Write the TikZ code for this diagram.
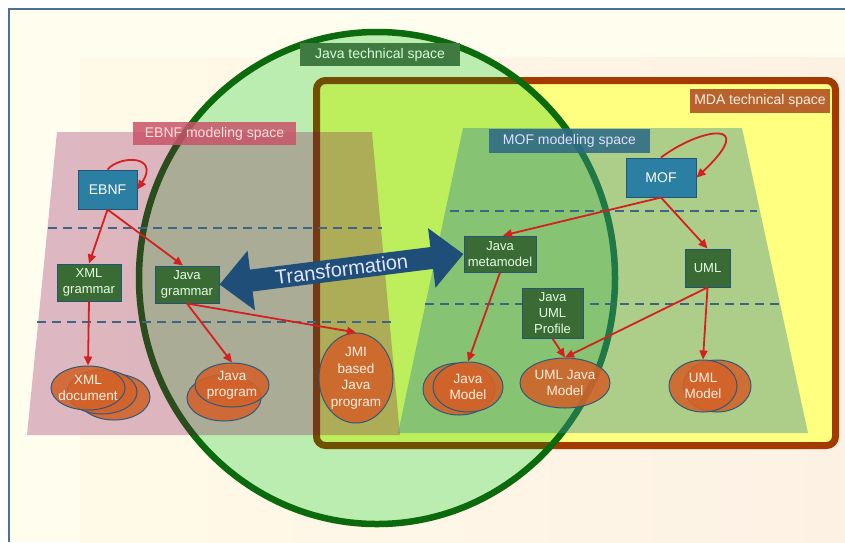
\documentclass[tikz,border=0pt]{standalone}
\usepackage{fontspec}
\setmainfont{Liberation Sans}
\usetikzlibrary{arrows.meta,shapes.geometric}
\definecolor{framebl}{HTML}{4F6F94}
\definecolor{cream}{HTML}{FFFDEE}
\definecolor{creamb}{HTML}{FFFAE8}
\definecolor{peach}{HTML}{FDF1E4}
\definecolor{ellfill}{HTML}{BBEDB0}
\definecolor{ellline}{HTML}{0B6A0B}
\definecolor{mdayel}{HTML}{FFFF80}
\definecolor{lime}{HTML}{BDEE5C}
\definecolor{mdabrd}{HTML}{A33A00}
\definecolor{mdaolive}{HTML}{705000}
\definecolor{pinktr}{RGB}{130,0,80}
\definecolor{moftr}{RGB}{60,140,150}
\definecolor{labjava}{HTML}{3F7A40}
\definecolor{labmda}{HTML}{B8622E}
\definecolor{labebnf}{HTML}{C8546A}
\definecolor{labmof}{HTML}{2E6A85}
\definecolor{boxblue}{HTML}{2B7FA2}
\definecolor{boxgreen}{HTML}{3B6B35}
\definecolor{boxedge}{HTML}{23557A}
\definecolor{ellor}{HTML}{D2622A}
\definecolor{elledge}{HTML}{2E5A7A}
\definecolor{arrred}{HTML}{D42020}
\definecolor{dashbl}{HTML}{3F6585}
\definecolor{transbl}{HTML}{1F4E79}
\begin{document}
\begin{tikzpicture}[x=1pt,y=-1pt,
  bluebox/.style={draw=boxedge, fill=boxblue, text=white, line width=1pt, inner sep=0pt, align=center, font=\fontsize{14}{15}\selectfont},
  greenbox/.style={draw=boxedge, fill=boxgreen, text=white!90!green, line width=1pt, inner sep=0pt, align=center, font=\fontsize{13}{16}\selectfont},
  ellnode/.style={ellipse, draw=elledge, fill=ellor, fill opacity=0.88, draw opacity=1, text opacity=1, text=white!88!orange, line width=1pt, inner xsep=-14pt, inner ysep=-10pt, align=center, font=\fontsize{13.5}{16.5}\selectfont},
  spacelab/.style={inner sep=0pt, minimum height=23pt, font=\fontsize{14}{14}\selectfont},
  redarr/.style={draw=arrred, line width=1.8pt, -{Triangle[length=9pt,width=8pt]}},
  dashln/.style={draw=dashbl, line width=1.4pt, dash pattern=on 9pt off 6pt},
  tarrow/.style={draw=transbl, line width=22pt, {Triangle[length=32pt,width=58pt]}-{Triangle[length=32pt,width=58pt]}}
]
\useasboundingbox (0,0) rectangle (845,542);
% background
\fill[white] (0,0) rectangle (845,542);
\fill[cream] (9,9) rectangle (845,542);
\shade[left color=creamb, right color=peach] (80,57) rectangle (845,542);
\draw[framebl, line width=2pt] (9,542) -- (9,9) -- (845,9);
% MDA technical space rectangle
\draw[mdabrd, fill=mdayel, line width=7pt, rounded corners=9pt] (316.5,80.5) rectangle (835.5,445.5);
% Java technical space ellipse
\fill[ellfill] (377,278) ellipse [x radius=240, y radius=248];
\begin{scope}
  \clip (377,278) ellipse [x radius=240, y radius=248];
  \fill[lime, rounded corners=6pt] (320,84) rectangle (832,442);
  \draw[mdaolive, line width=7pt, rounded corners=9pt] (316.5,80.5) rectangle (835.5,445.5);
\end{scope}
\draw[ellline, line width=6.5pt] (377,278) ellipse [x radius=238, y radius=246];
% modeling spaces
\fill[pinktr, fill opacity=0.27] (57,132) -- (372,132) -- (400,435) -- (27,435) -- cycle;
\fill[moftr, fill opacity=0.42] (463,128) -- (742,128) -- (808,433) -- (398,433) -- cycle;
% labels
\node[spacelab, fill=labjava, text=white!85!green, minimum width=160pt] (ljava) at (380,54.5) {Java technical space};
\node[spacelab, fill=labmda, text=white!88!orange, minimum width=140pt, minimum height=24pt] (lmda) at (760,101) {MDA technical space};
\node[spacelab, fill=labebnf, fill opacity=0.85, text opacity=1, text=white!88!red, minimum width=163pt] (lebnf) at (214.5,133.5) {EBNF modeling space};
\node[spacelab, fill=labmof, fill opacity=0.88, text opacity=1, text=white!88!blue, minimum width=161pt, minimum height=24pt] (lmof) at (569.5,141) {MOF modeling space};
% dashed level separators
\draw[dashln] (48,228) -- (382,228);
\draw[dashln] (37,322) -- (392,322);
\draw[dashln] (450,211) -- (757,211);
\draw[dashln] (425,304) -- (782,304);
% boxes
\node[bluebox, minimum width=59pt, minimum height=39pt] (ebnf) at (107.5,189.5) {EBNF};
\node[greenbox, minimum width=64pt, minimum height=37pt] (xmlg) at (89,282.5) {XML\\grammar};
\node[greenbox, minimum width=64pt, minimum height=37pt] (jg) at (187,284.5) {Java\\grammar};
\node[bluebox, minimum width=70pt, minimum height=39pt] (mof) at (661,177.5) {MOF};
\node[greenbox, minimum width=72pt, minimum height=36pt] (jmm) at (500,254) {Java\\metamodel};
\node[greenbox, minimum width=45pt, minimum height=38pt] (uml) at (707.5,268) {UML};
\node[greenbox, minimum width=61pt, minimum height=50pt] (jup) at (552.5,313) {Java\\UML\\Profile};
% model ellipses
\node[ellnode, minimum width=72pt, minimum height=46pt] (xd3) at (114,397) {};
\node[ellnode, minimum width=70pt, minimum height=44pt] (xd2) at (102,392) {};
\node[ellnode, minimum width=74pt, minimum height=44pt] (xd) at (88,388) {XML\\document};
\node[ellnode, minimum width=74pt, minimum height=46pt] (jp2) at (224,398) {};
\node[ellnode, minimum width=74pt, minimum height=44pt] (jp) at (232,385) {Java\\program};
\node[ellnode, minimum width=74pt, minimum height=90pt] (jmi) at (356,378) {JMI\\based\\Java\\program};
\node[ellnode, minimum width=72pt, minimum height=52pt] (jmod2) at (459,389) {};
\node[ellnode, minimum width=70pt, minimum height=50pt] (jmod) at (468,387) {Java\\Model};
\node[ellnode, minimum width=90pt, minimum height=50pt] (ujm) at (565,383) {UML Java\\Model};
\node[ellnode, minimum width=68pt, minimum height=52pt] (um2) at (717,386) {};
\node[ellnode, minimum width=68pt, minimum height=52pt] (um) at (703,386) {UML\\Model};
% red relations
\draw[redarr] (ebnf.north) .. controls (120,155) and (160,155) .. (ebnf.east);
\draw[redarr] (mof.north) .. controls (700,128) and (760,118) .. (mof.east);
\draw[redarr] (ebnf.south) -- (xmlg.north);
\draw[redarr] (ebnf.south) -- ([xshift=-4pt]jg.north);
\draw[redarr] (xmlg.south) -- (xd.north);
\draw[redarr] (jg.south) -- (jp.north);
\draw[redarr] (jg.south) -- (jmi.north);
\draw[redarr] (mof.south) -- ([xshift=3pt]jmm.north);
\draw[redarr] (mof.south) -- (uml.north);
\draw[redarr] (jmm.south) -- (jmod.north);
\draw[redarr] (uml.south) -- (ujm.north);
\draw[redarr] (jup.south) -- (ujm.north);
\draw[redarr] (uml.south) -- (um.north);
% transformation
\draw[tarrow] (jg.east) -- (jmm.west);
\path (jg.east) -- node[sloped, text=white!90!blue, font=\fontsize{20}{20}\selectfont] (tlab) {Transformation} (jmm.west);
\end{tikzpicture}
\end{document}
